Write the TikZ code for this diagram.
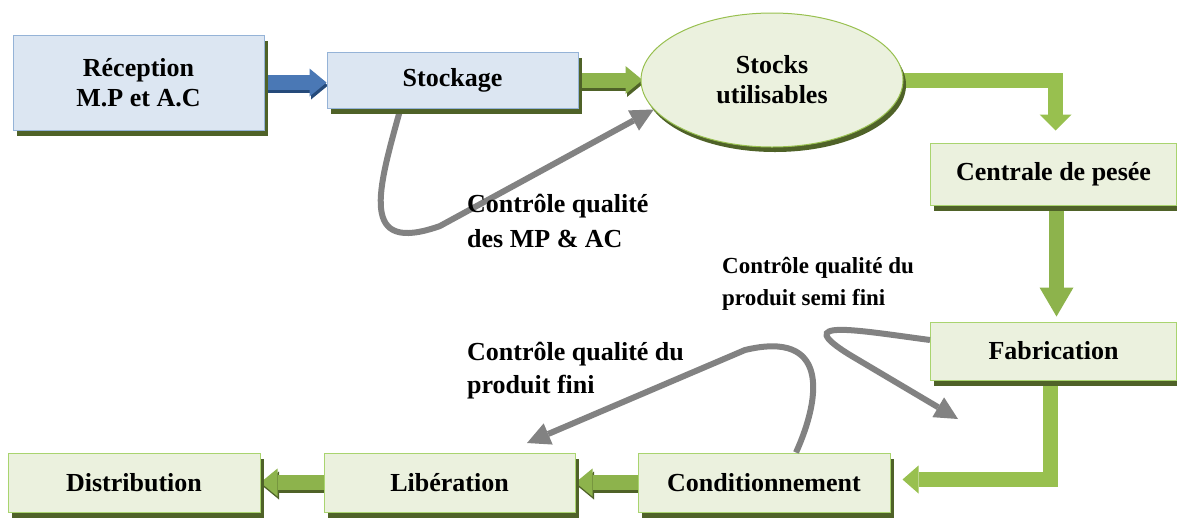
\documentclass[tikz,border=0pt]{standalone}
\usepackage{fontspec}
\setmainfont{Liberation Serif}
\usetikzlibrary{arrows.meta,shapes.geometric,shadows,calc}
\definecolor{bluefill}{HTML}{DCE6F2}
\definecolor{blueline}{HTML}{95B3D7}
\definecolor{greenfill}{HTML}{EBF1DE}
\definecolor{greenline}{HTML}{A9D46F}
\definecolor{olivesh}{HTML}{4F6228}
\definecolor{arrgreen}{HTML}{8DB34C}
\definecolor{arrgreenb}{HTML}{98C04F}
\definecolor{arrblue}{HTML}{4A78B5}
\definecolor{arrblued}{HTML}{254A7A}
\definecolor{ctrlgray}{HTML}{828282}
\pgfdeclarelayer{bg}
\pgfsetlayers{bg,main}
\begin{document}
\begin{tikzpicture}[x=1pt,y=-1pt,
  box/.style={rectangle, inner sep=0pt, align=center, line width=1pt,
    font=\fontsize{26}{30}\selectfont\bfseries,
    general shadow={fill=olivesh, shadow xshift=3.5pt, shadow yshift=-5.5pt}},
  bbox/.style={box, fill=bluefill, draw=blueline},
  gbox/.style={box, fill=greenfill, draw=greenline},
  lbl/.style={anchor=north west, inner sep=0pt, align=left},
  harrow/.style={line width=15pt, draw=arrgreen, -{Triangle[length=17pt,width=28pt,line width=0pt]}},
  harrowsh/.style={line width=15pt, draw=olivesh, -{Triangle[length=17pt,width=28pt,line width=0pt]}},
  elbow/.style={line width=15pt, draw=arrgreenb},
  ctrl/.style={draw=ctrlgray, line width=6pt, -{Triangle[length=23pt,width=23pt,line width=0pt]}}
]
\useasboundingbox (0,0) rectangle (1177,520);

% boxes
\node[bbox, minimum width=251pt, minimum height=95pt] (rec) at (138.5,82.5) {Réception\\M.P et A.C};
\node[bbox, minimum width=251pt, minimum height=56pt] (stock) at (452.5,80) {Stockage};
\node[ellipse, fill=greenfill, draw=arrgreenb, line width=1pt, inner sep=0pt, align=center,
      minimum width=262pt, minimum height=134pt,
      font=\fontsize{26}{30}\selectfont\bfseries,
      general shadow={fill=olivesh, shadow xshift=3pt, shadow yshift=-5pt}] (stocks) at (772,80) {Stocks\\utilisables};
\node[gbox, minimum width=246pt, minimum height=62pt] (cent) at (1053.5,174) {Centrale de pesée};
\node[gbox, minimum width=246pt, minimum height=58pt] (fab) at (1053.5,351) {Fabrication};
\node[gbox, minimum width=252pt, minimum height=59pt] (cond) at (764,482.5) {Conditionnement};
\node[gbox, minimum width=251pt, minimum height=59pt] (lib) at (449.5,482.5) {Libération};
\node[gbox, minimum width=252pt, minimum height=59pt] (dist) at (134,482.5) {Distribution};

\coordinate (semiend) at (958,419);
\coordinate (finiend) at (527,443);

\begin{pgfonlayer}{bg}
% blue arrow
\draw[line width=15pt, draw=arrblued, -{Triangle[length=17pt,width=28pt,line width=0pt]},
      transform canvas={shift={(1.5pt,-3pt)}}] (rec.east) -- (rec.east -| stock.west);
\draw[line width=15pt, draw=arrblue, -{Triangle[length=17pt,width=28pt,line width=0pt]}]
      (rec.east) -- (rec.east -| stock.west);
% green straight arrows
\draw[harrowsh, transform canvas={shift={(1.5pt,-3pt)}}] (stock.east) -- ([xshift=2pt]stocks.west);
\draw[harrow] (stock.east) -- ([xshift=2pt]stocks.west);
\draw[harrowsh, transform canvas={shift={(1.5pt,-3pt)}}] (cond.west) -- (lib.east);
\draw[harrow] (cond.west) -- (lib.east);
\draw[harrowsh, transform canvas={shift={(1.5pt,-3pt)}}] (lib.west) -- (dist.east);
\draw[harrow] (lib.west) -- (dist.east);
% elbow arrows
\draw[elbow, -{Triangle[length=16pt,width=32pt,line width=0pt]}]
      ([xshift=-4pt]stocks.east) -| ([xshift=2pt,yshift=12pt]cent.north);
\draw[elbow, draw=arrgreen, -{Triangle[length=29pt,width=34pt,line width=0pt]}]
      ([xshift=3pt]cent.south) -- ([xshift=3pt,yshift=5pt]fab.north);
\draw[elbow, -{Triangle[length=16pt,width=28pt,line width=0pt]}]
      ([xshift=-3pt]fab.south) |- ([xshift=12pt,yshift=3pt]cond.east);
% quality control arrows
\draw[ctrl] ([xshift=-52pt]stock.south) .. controls (378,190) and (358,255) .. (440,226) -- (stocks.194);
\end{pgfonlayer}

\draw[ctrl] ([yshift=11pt]fab.west) .. controls (855,330) and (790,318) .. (850,355) -- (semiend);
\draw[ctrl] ([xshift=32pt]cond.north) .. controls (822,395) and (828,330) .. (745,350) -- (finiend);

% labels
\node[lbl, font=\fontsize{26}{35}\selectfont\bfseries] (l1) at (467,194) {Contrôle qualité\\des MP \& AC};
\node[lbl, font=\fontsize{23}{32}\selectfont\bfseries] (l2) at (722,257) {Contrôle qualité du\\produit semi fini};
\node[lbl, font=\fontsize{26}{33}\selectfont\bfseries] (l3) at (467,342) {Contrôle qualité du\\produit fini};
\end{tikzpicture}
\end{document}
